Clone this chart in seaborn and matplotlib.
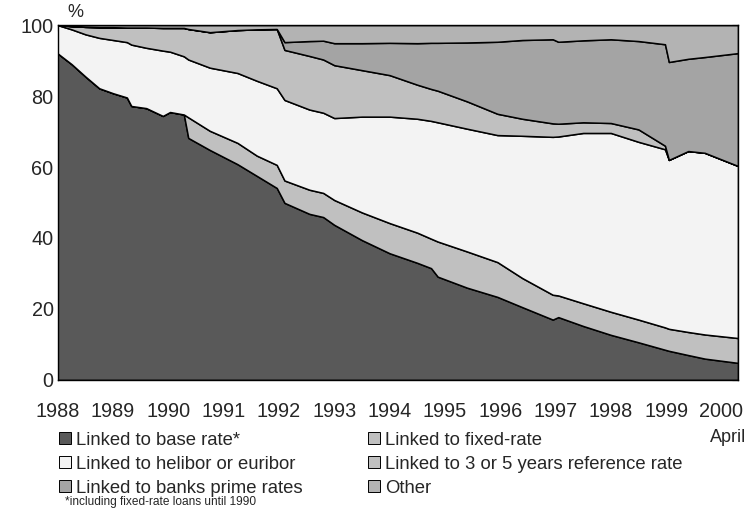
import numpy as np
import pandas as pd
import seaborn as sns
import matplotlib.pyplot as plt
from matplotlib.patches import Patch

# time points (decimal years), last point is April 2000
years = [1988.00, 1988.25, 1988.50, 1988.75, 1989.00, 1989.25, 1989.33, 1989.60,
         1989.90, 1990.03, 1990.28, 1990.36, 1990.75, 1991.25, 1991.60, 1991.96,
         1992.10, 1992.55, 1992.80, 1993.00, 1993.50, 1994.00, 1994.50, 1994.75,
         1994.87, 1995.40, 1995.95, 1996.40, 1996.95, 1997.05, 1997.50, 1998.00,
         1998.50, 1998.98, 1999.05, 1999.40, 1999.70, 2000.30]

# shares of loan stock, %
base_rate = [92.0, 89.0, 85.5, 82.2, 80.8, 79.6, 77.2, 76.6, 74.4, 75.5, 74.8, 68.2,
             64.8, 60.8, 57.5, 54.1, 49.9, 46.8, 45.9, 43.7, 39.4, 35.7, 33.0, 31.5,
             29.1, 26.0, 23.4, 20.5, 17.0, 17.7, 15.2, 12.7, 10.6, 8.5, 8.2, 7.0,
             6.0, 4.8]
fixed_rate = [0, 0, 0, 0, 0, 0, 0, 0, 0, 0, 0, 5.8, 5.4, 6.0, 5.7, 6.5, 6.3, 6.8, 6.8,
              7.0, 7.8, 8.5, 8.5, 8.3, 9.9, 10.2, 9.8, 8.2, 7.0, 6.1, 6.4, 6.5, 6.4,
              6.3, 6.2, 6.5, 6.8, 7.0]
helibor = [8.0, 9.8, 11.9, 14.2, 15.0, 15.6, 17.3, 17.0, 18.4, 17.0, 16.4, 16.3, 17.8,
           19.7, 21.1, 21.6, 22.7, 22.6, 22.6, 23.1, 27.0, 30.0, 32.1, 33.2, 33.6,
           34.6, 35.8, 40.1, 44.5, 44.8, 48.0, 50.4, 50.1, 50.2, 47.6, 51.0, 51.2,
           48.5]
ref_3_5 = [0, 0.9, 2.1, 3.0, 3.6, 4.1, 4.8, 5.7, 6.4, 6.7, 8.0, 8.6, 10.0, 12.1, 14.5,
           16.7, 14.1, 15.1, 15.0, 14.9, 13.1, 11.7, 9.6, 9.0, 8.9, 7.7, 6.0, 4.8,
           3.8, 3.6, 3.0, 2.8, 3.5, 1.0, 0, 0, 0, 0]
prime = [0, 0, 0, 0, 0, 0, 0, 0, 0, 0, 0, 0, 0, 0, 0, 0, 2.2, 4.2, 5.3, 6.2, 7.6, 9.1,
         11.7, 13.0, 13.5, 16.6, 20.3, 22.2, 23.7, 23.1, 23.1, 23.6, 24.9, 28.6,
         27.6, 26.0, 27.0, 31.8]
other = [0, 0.3, 0.5, 0.6, 0.6, 0.7, 0.7, 0.7, 0.8, 0.8, 0.8, 1.1, 2.0, 1.4, 1.2, 1.1,
         4.8, 4.5, 4.4, 5.1, 5.1, 5.0, 5.1, 5.0, 5.0, 4.9, 4.7, 4.2, 4.0, 4.7, 4.3,
         4.0, 4.5, 5.4, 10.4, 9.5, 9.0, 7.9]

labels = ["Linked to base rate*", "Linked to fixed-rate", "Linked to helibor or euribor",
          "Linked to 3 or 5 years reference rate", "Linked to banks prime rates", "Other"]
colors = ["#595959", "#c0c0c0", "#f3f3f3", "#c0c0c0", "#a4a4a4", "#b3b3b3"]
year_ticks = list(range(1988, 2001))

df = pd.DataFrame({"year": years, labels[0]: base_rate, labels[1]: fixed_rate,
                   labels[2]: helibor, labels[3]: ref_3_5, labels[4]: prime,
                   labels[5]: other})

sns.set_theme(style="white")
plt.rcParams['font.family'] = ['Liberation Sans', 'DejaVu Sans']

fig = plt.figure(figsize=(7.5, 5.12), dpi=100)
ax = fig.add_axes([0.077, 0.258, 0.907, 0.693])

ax.stackplot(df["year"], [df[c] for c in labels], colors=colors,
             edgecolor="black", linewidth=1.1)

ax.set_xlim(1988, 2000.3)
ax.set_ylim(0, 100)
ax.set_yticks(range(0, 101, 20))
ax.set_xticks(year_ticks)
ax.set_xticklabels([str(y) for y in year_ticks])
ax.tick_params(axis="both", direction="in", length=4, width=0.8, color="black",
               labelsize=14.3, top=True, right=True, labelright=False, labeltop=False)
ax.tick_params(axis="x", pad=16)
ax.tick_params(axis="y", pad=3)
for s in ax.spines.values():
    s.set_color("black")
    s.set_linewidth(1.0)

fig.text(0.09, 0.975, "%", fontsize=13, ha="left", va="center")
fig.text(0.995, 0.146, "April", fontsize=13, ha="right", va="center")

handles = [Patch(facecolor=colors[i], edgecolor="black", linewidth=0.7) for i in range(6)]
order = [0, 2, 4, 1, 3, 5]
fig.legend([handles[i] for i in order], [labels[i] for i in order],
           loc="upper left", bbox_to_anchor=(0.079, 0.157), ncol=2, frameon=False,
           fontsize=13.3, handlelength=0.65, handleheight=0.65, handletextpad=0.28,
           labelspacing=0.38, columnspacing=3.5, borderpad=0, borderaxespad=0)
fig.text(0.087, 0.0195, "*including fixed-rate loans until 1990", fontsize=8.6,
         ha="left", va="center")

plt.savefig("out.png", dpi=100)
